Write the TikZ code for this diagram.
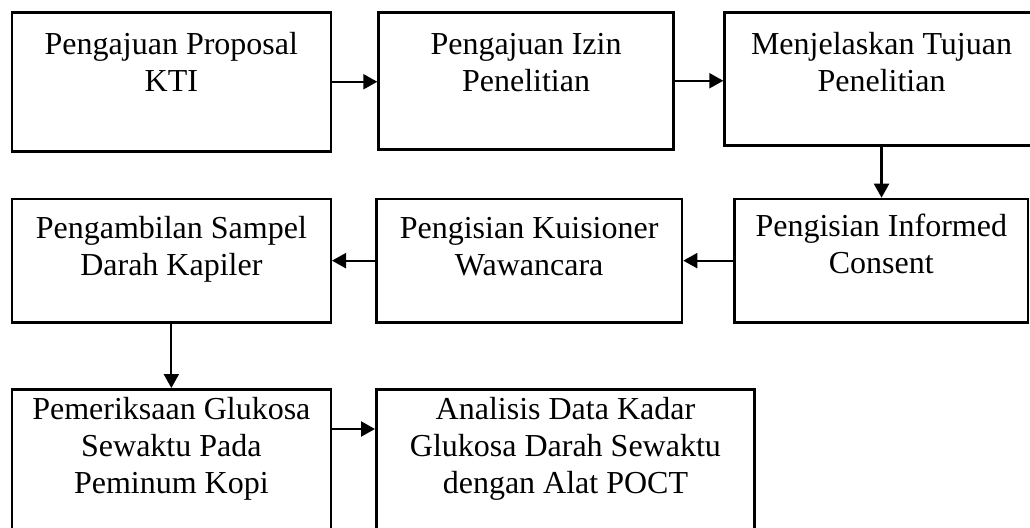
\documentclass[tikz,border=0pt]{standalone}
\usepackage{fontspec}
\setmainfont{Liberation Serif}
\usetikzlibrary{arrows.meta}

\tikzset{
  stepbox/.style={draw, line width=1.25pt, anchor=north west, inner sep=0pt,
    align=center, font=\fontsize{16}{18.5}\selectfont},
  flow/.style={-{Triangle[length=7pt,width=7.5pt]}, line width=1.1pt}
}

\begin{document}
\begin{tikzpicture}[x=0.5pt, y=-0.5pt]
        \useasboundingbox (0,0) rectangle (1030,527);
        \clip (0,0) rectangle (1030,527);
        % row 1
        \node (kti) [stepbox, minimum width=159.4pt, text height=39.5pt, text depth=30pt]
            at (10.7,11) {Pengajuan Proposal\\KTI};
        \node (izin) [stepbox, minimum width=147.5pt, text height=39.5pt, text depth=29pt]
            at (377.3,11) {Pengajuan Izin\\Penelitian};
        \node (tujuan) [stepbox, minimum width=157pt, text height=39.5pt, text depth=27.2pt]
            at (723.3,11) {Menjelaskan Tujuan\\Penelitian};
        % row 2
        \node (sampel) [stepbox, minimum width=159.4pt, text height=38.2pt, text depth=23.5pt]
            at (10.7,197.7) {Pengambilan Sampel\\Darah Kapiler};
        \node (kuis) [stepbox, minimum width=152.9pt, text height=38.2pt, text depth=23.5pt]
            at (375,197.7) {Pengisian Kuisioner\\Wawancara};
        \node (consent) [stepbox, minimum width=146.7pt, text height=37.3pt, text depth=24.4pt]
            at (733.3,197.7) {Pengisian Informed\\Consent};
        % row 3
        \node (periksa) [stepbox, minimum width=159.4pt, text height=52.3pt, text depth=37.7pt]
            at (10.7,388) {Pemeriksaan Glukosa\\Sewaktu Pada\\Peminum Kopi};
        \node (analisis) [stepbox, minimum width=189.2pt, text height=52.3pt, text depth=37.7pt]
            at (375,388) {Analisis Data Kadar\\Glukosa Darah Sewaktu\\dengan Alat POCT};
        \coordinate (k7) at ([yshift=-20.5pt]periksa.north east);
        \path [flow]
            (kti.east) edge (kti.east -| izin.west)
            (izin.east) edge (izin.east -| tujuan.west)
            (tujuan.south) edge (tujuan.south |- consent.north)
            (consent.west) edge (consent.west -| kuis.east)
            (kuis.west) edge (kuis.west -| sampel.east)
            (sampel.south) edge (sampel.south |- periksa.north)
            (k7) edge (k7 -| analisis.west)
            ;
\end{tikzpicture}
\end{document}
